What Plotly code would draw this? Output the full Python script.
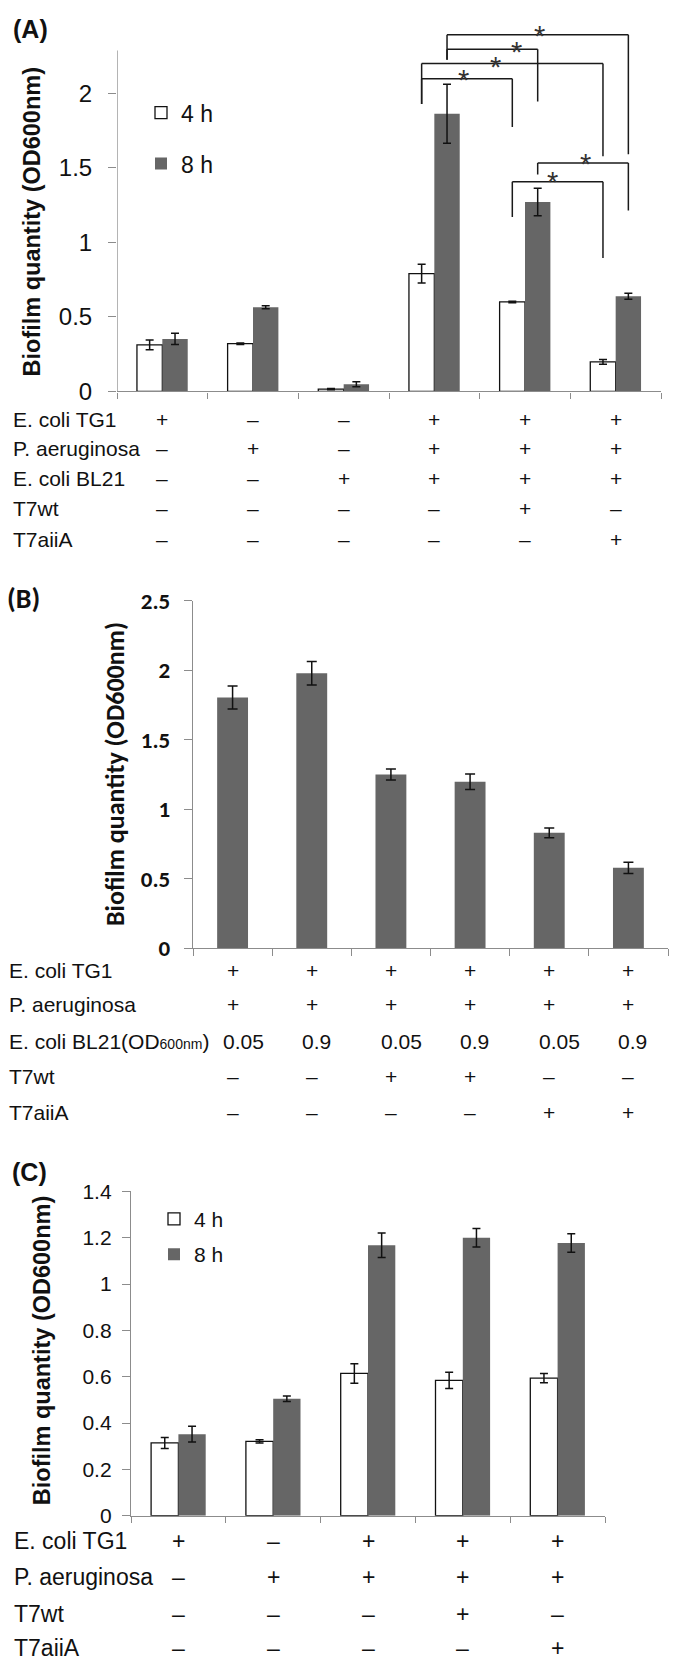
import plotly.graph_objects as go

W, H = 680, 1670
ARIAL = "Liberation Sans, Arial, sans-serif"
CAL = "Carlito, Lato, sans-serif"
DARK = "#111111"
GRAY = "#666666"
AXC = "#8c8c8c"

# ---------------- Panel A data ----------------
a_idx = [0, 1, 2, 3, 4, 5]
a_4h = [0.312, 0.32, 0.015, 0.79, 0.60, 0.198]
a_4h_err = [0.033, 0.005, 0.005, 0.063, 0.005, 0.016]
a_8h = [0.352, 0.565, 0.048, 1.862, 1.271, 0.638]
a_8h_err = [0.038, 0.010, 0.017, 0.198, 0.092, 0.020]
a_yticks = [0, 0.5, 1, 1.5, 2]
a_yticktext = ["0", "0.5", "1", "1.5", "2"]
a_rows = ["E. coli TG1", "P. aeruginosa", "E. coli BL21", "T7wt", "T7aiiA"]
a_signs = [
    ["+", "–", "–", "+", "+", "+"],
    ["–", "+", "–", "+", "+", "+"],
    ["–", "–", "+", "+", "+", "+"],
    ["–", "–", "–", "–", "+", "–"],
    ["–", "–", "–", "–", "–", "+"],
]
# significance brackets: (group L, series L, group R, series R, top, left leg end, right leg end, star x, star y)
a_brackets = [
    (3, 0, 4, 0, 2.098, 1.928, 1.774, 3.327, 2.137),
    (3, 0, 5, 0, 2.199, 1.928, 1.577, 3.677, 2.225),
    (3, 1, 4, 1, 2.295, 2.225, 1.945, 3.908, 2.323),
    (3, 1, 5, 1, 2.393, 2.225, 1.590, 4.158, 2.433),
    (4, 1, 5, 1, 1.532, 1.455, 1.214, 4.666, 1.575),
    (4, 0, 5, 0, 1.407, 1.170, 0.895, 4.308, 1.451),
]

# ---------------- Panel B data ----------------
b_idx = [0, 1, 2, 3, 4, 5]
b_vals = [1.805, 1.98, 1.25, 1.198, 0.83, 0.578]
b_err = [0.083, 0.085, 0.040, 0.055, 0.035, 0.040]
b_yticks = [0, 0.5, 1, 1.5, 2, 2.5]
b_yticktext = ["0", "0.5", "1", "1.5", "2", "2.5"]
b_rows = ["E. coli TG1", "P. aeruginosa",
          "E. coli BL21(OD<span style='font-size:14px'>600nm</span>)", "T7wt", "T7aiiA"]
b_signs = [
    ["+", "+", "+", "+", "+", "+"],
    ["+", "+", "+", "+", "+", "+"],
    ["0.05", "0.9", "0.05", "0.9", "0.05", "0.9"],
    ["–", "–", "+", "+", "–", "–"],
    ["–", "–", "–", "–", "+", "+"],
]

# ---------------- Panel C data ----------------
c_idx = [0, 1, 2, 3, 4]
c_4h = [0.314, 0.321, 0.614, 0.584, 0.594]
c_4h_err = [0.024, 0.007, 0.042, 0.035, 0.020]
c_8h = [0.352, 0.505, 1.167, 1.20, 1.177]
c_8h_err = [0.034, 0.012, 0.053, 0.040, 0.040]
c_yticks = [0, 0.2, 0.4, 0.6, 0.8, 1.0, 1.2, 1.4]
c_yticktext = ["0", "0.2", "0.4", "0.6", "0.8", "1", "1.2", "1.4"]
c_rows = ["E. coli TG1", "P. aeruginosa", "T7wt", "T7aiiA"]
c_signs = [
    ["+", "–", "+", "+", "+"],
    ["–", "+", "+", "+", "+"],
    ["–", "–", "–", "+", "–"],
    ["–", "–", "–", "–", "+"],
]


def px(x):
    return x / W


def py(y):
    return 1 - y / H


fig = go.Figure()

# bar geometry (fractions of a category)
A_BW = 0.28
C_BW = 0.288
B_BW = 0.39


def err(arr, w):
    return dict(type="data", array=arr, color=DARK, thickness=1.5, width=w)


fig.add_trace(go.Bar(x=a_idx, y=a_4h, name="4 h", width=A_BW, offset=-A_BW,
                     marker=dict(color="white", line=dict(color=DARK, width=1.3)),
                     error_y=err(a_4h_err, 4), xaxis="x", yaxis="y",
                     legend="legend", legendgroup="a4"))
fig.add_trace(go.Bar(x=a_idx, y=a_8h, name="8 h", width=A_BW, offset=0,
                     marker=dict(color=GRAY, line=dict(color=GRAY, width=0)),
                     error_y=err(a_8h_err, 4), xaxis="x", yaxis="y",
                     legend="legend", legendgroup="a8"))
fig.add_trace(go.Bar(x=b_idx, y=b_vals, name="B", width=B_BW, offset=-B_BW / 2,
                     marker=dict(color=GRAY, line=dict(color=GRAY, width=0)),
                     error_y=err(b_err, 5), xaxis="x2", yaxis="y2", showlegend=False))
fig.add_trace(go.Bar(x=c_idx, y=c_4h, name="4 h", width=C_BW, offset=-C_BW,
                     marker=dict(color="white", line=dict(color=DARK, width=1.3)),
                     error_y=err(c_4h_err, 4), xaxis="x3", yaxis="y3",
                     legend="legend2", legendgroup="c4"))
fig.add_trace(go.Bar(x=c_idx, y=c_8h, name="8 h", width=C_BW, offset=0,
                     marker=dict(color=GRAY, line=dict(color=GRAY, width=0)),
                     error_y=err(c_8h_err, 4), xaxis="x3", yaxis="y3",
                     legend="legend2", legendgroup="c8"))

annotations = []
shapes = []

# ---- Panel A brackets ----
for gl, sl, gr, sr, top, lb, rb, sx, sy in a_brackets:
    xl = gl + (-A_BW / 2 if sl == 0 else A_BW / 2)
    xr = gr + (-A_BW / 2 if sr == 0 else A_BW / 2)
    line = dict(color="#1a1a1a", width=1.5)
    shapes.append(dict(type="line", xref="x", yref="y", x0=xl, x1=xr, y0=top, y1=top, line=line))
    shapes.append(dict(type="line", xref="x", yref="y", x0=xl, x1=xl, y0=top, y1=lb, line=line))
    shapes.append(dict(type="line", xref="x", yref="y", x0=xr, x1=xr, y0=top, y1=rb, line=line))
    annotations.append(dict(text="*", xref="x", yref="y", x=sx, y=sy, showarrow=False,
                            xanchor="center", yanchor="middle", yshift=-7,
                            font=dict(family=ARIAL, size=29, color="#333")))

# Panel A y-axis line (stops below brackets)
shapes.append(dict(type="line", xref="x", yref="y", x0=-0.5, x1=-0.5, y0=0, y1=2.287,
                   line=dict(color=AXC, width=1.3)))


def row_annots(rows, signs, xaxis, ys, label_x, size, fam=ARIAL, left_rows=()):
    for r, (lab, y) in enumerate(zip(rows, ys)):
        annotations.append(dict(text=lab, xref="paper", yref="paper", x=px(label_x), y=py(y),
                                xanchor="left", yanchor="middle", showarrow=False,
                                font=dict(family=fam, size=size, color=DARK)))
        for i, s in enumerate(signs[r]):
            a = dict(text=s, xref=xaxis, yref="paper", x=i, y=py(y),
                     xanchor="center", yanchor="middle", showarrow=False,
                     font=dict(family=fam, size=size, color=DARK))
            if r in left_rows:
                a.update(xanchor="left", xshift=-12)
            annotations.append(a)


row_annots(a_rows, a_signs, "x", [412, 442, 472, 503, 534], 11, 21)
row_annots(b_rows, b_signs, "x2", [973, 1007, 1045, 1081, 1117], 7, 21, left_rows=(2,))
row_annots(c_rows, c_signs, "x3", [1553, 1590, 1627, 1662], 12, 23)

# panel letters
for txt, x, y, fam, size in [("(A)", 11, 15, ARIAL, 25), ("(B)", 5, 594, CAL, 28),
                             ("(C)", 10, 1178, ARIAL, 25)]:
    annotations.append(dict(text=txt, xref="paper", yref="paper", x=px(x), y=py(y),
                            xanchor="left", yanchor="middle", showarrow=False,
                            font=dict(family=fam, size=size, color=DARK, weight="bold")))

# y-axis titles
for x, y, fam, size in [(32, 212, ARIAL, 23.5), (115, 773, CAL, 26), (42, 1360, ARIAL, 23.5)]:
    annotations.append(dict(text="Biofilm quantity (OD600nm)", xref="paper", yref="paper",
                            x=px(x), y=py(y), xanchor="center", yanchor="middle",
                            textangle=-90, showarrow=False,
                            font=dict(family=fam, size=size, color=DARK, weight="bold")))


def xaxis_cfg(n, x0, x1, ticklen):
    return dict(domain=[px(x0), px(x1)], range=[-0.5, n - 0.5], showline=True,
                linecolor=AXC, linewidth=1.3, tickvals=[i - 0.5 for i in range(n + 1)],
                ticktext=[""] * (n + 1), ticks="outside", ticklen=ticklen, tickcolor=AXC,
                tickwidth=1.3, showgrid=False, zeroline=False, fixedrange=True)


fig.update_layout(
    width=W, height=H, autosize=False,
    margin=dict(l=0, r=0, t=0, b=0),
    paper_bgcolor="white", plot_bgcolor="white",
    barmode="group",
    xaxis=dict(anchor="y", **xaxis_cfg(6, 117, 661, 6)),
    yaxis=dict(anchor="x", domain=[py(383.8), py(12.4)], range=[0, 2.45], showline=False,
               tickvals=a_yticks, ticktext=a_yticktext, ticks="outside", ticklen=8,
               tickcolor=AXC, tickwidth=1.3, showgrid=False,
               zeroline=False, ticklabelstandoff=11, fixedrange=True,
               tickfont=dict(family=ARIAL, size=24, color=DARK)),
    xaxis2=dict(anchor="y2", **xaxis_cfg(6, 193, 668, 7)),
    yaxis2=dict(anchor="x2", domain=[py(950), py(597)], range=[0, 2.5], showline=True,
                linecolor=AXC, linewidth=1.3, tickvals=b_yticks, ticktext=b_yticktext,
                ticks="outside", ticklen=8, tickcolor=AXC, tickwidth=1.3, showgrid=False,
                zeroline=False, ticklabelstandoff=9, fixedrange=True,
                tickfont=dict(family=CAL, size=23, color=DARK, weight="bold")),
    xaxis3=dict(anchor="y3", **xaxis_cfg(5, 131, 605, 6)),
    yaxis3=dict(anchor="x3", domain=[py(1527.3), py(1197.4)], range=[0, 1.4], showline=True,
                linecolor=AXC, linewidth=1.3, tickvals=c_yticks, ticktext=c_yticktext,
                ticks="outside", ticklen=8, tickcolor=AXC, tickwidth=1.3, showgrid=False,
                zeroline=False, ticklabelstandoff=6, fixedrange=True,
                tickfont=dict(family=ARIAL, size=21, color=DARK)),
    legend=dict(x=px(141), y=py(78.5), xanchor="left", yanchor="top",
                font=dict(family=ARIAL, size=23, color=DARK), bgcolor="rgba(0,0,0,0)",
                tracegroupgap=18, traceorder="grouped", itemwidth=30),
    legend2=dict(x=px(154), y=py(1205), xanchor="left", yanchor="top",
                 font=dict(family=ARIAL, size=21, color=DARK), bgcolor="rgba(0,0,0,0)",
                 tracegroupgap=5, traceorder="grouped", itemwidth=30),
    annotations=annotations,
    shapes=shapes,
)

fig.write_html("out.html", config={"displayModeBar": False},
               post_script="document.body.style.margin='0';")
